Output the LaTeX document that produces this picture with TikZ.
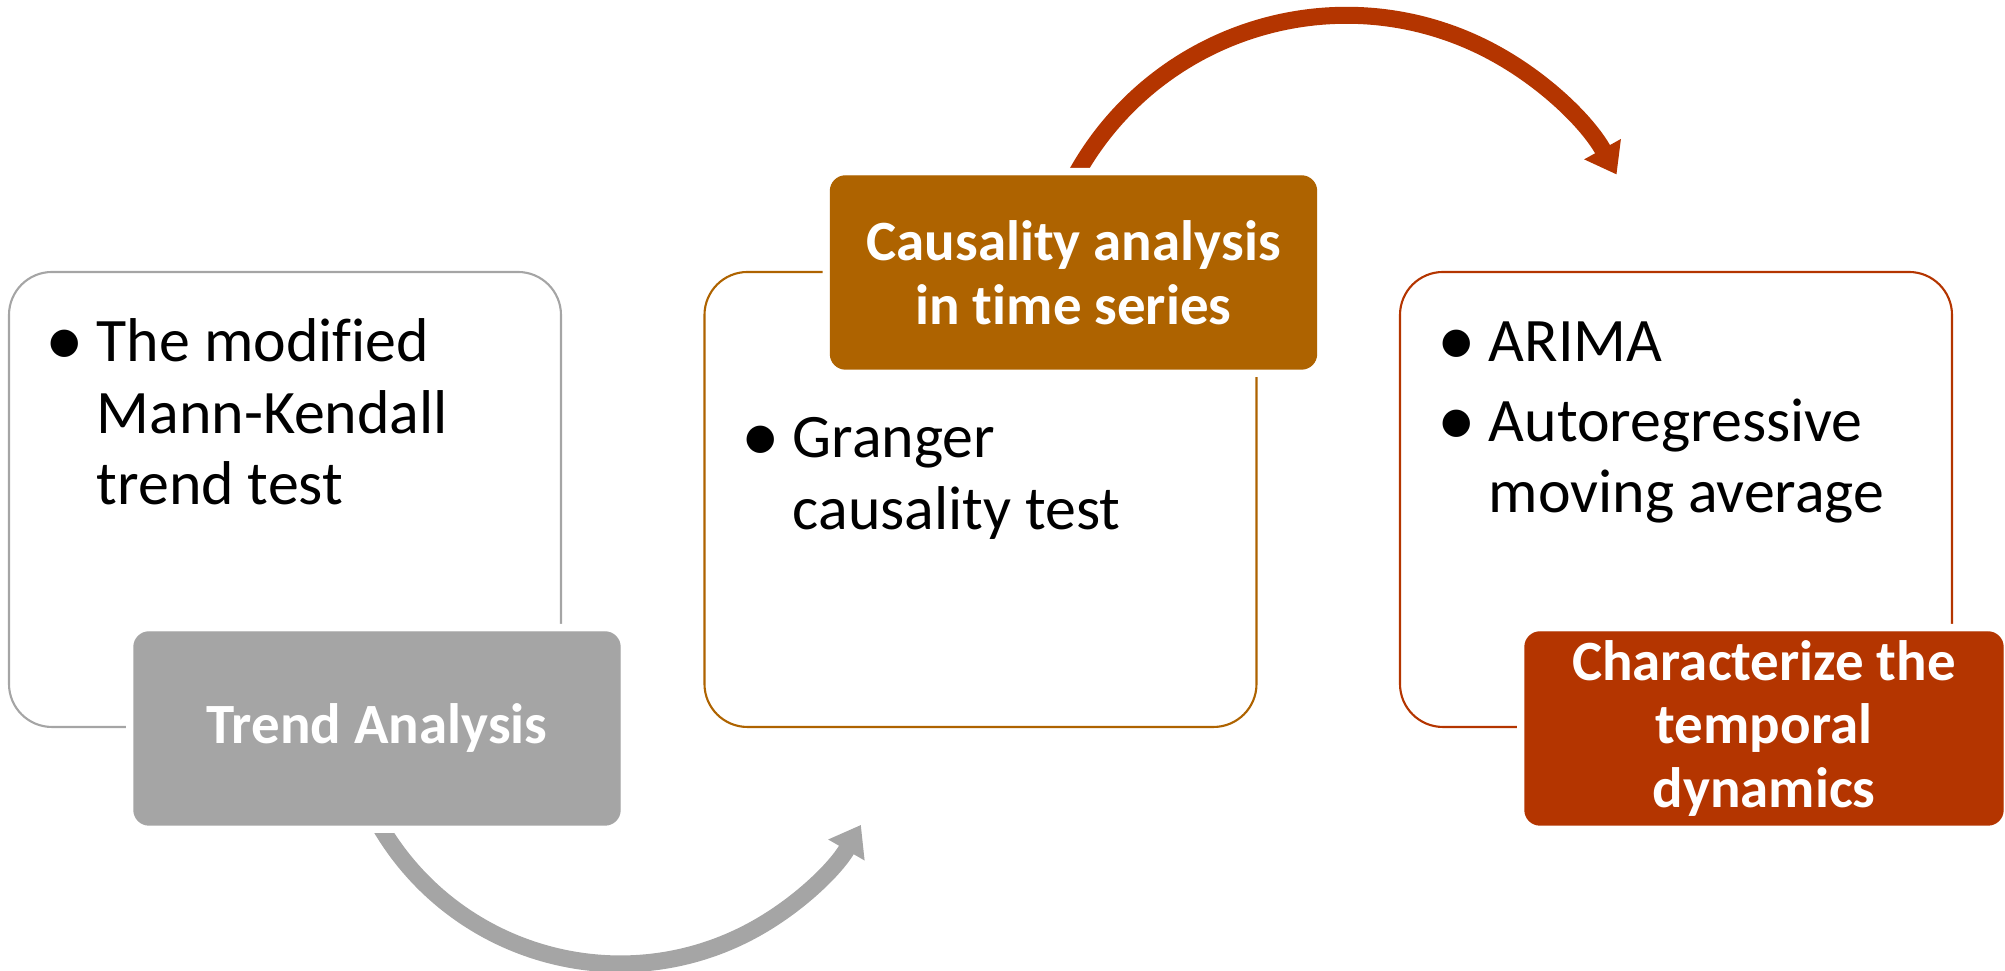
\documentclass[tikz,border=0pt]{standalone}
\usepackage{fontspec}
\setmainfont{Carlito}[Ligatures=NoCommon]
\usetikzlibrary{arrows.meta,calc,backgrounds}
\definecolor{trendgray}{HTML}{A5A5A5}
\definecolor{causbrown}{HTML}{AE6300}
\definecolor{dynred}{HTML}{B43500}
\newcommand\bulletmark{\makebox[0.22cm][c]{\raisebox{-0.06em}{\scalebox{1.25}{\textbullet}}}}

\begin{document}
\begin{tikzpicture}[
  boxline/.style={draw=#1, line width=0.6pt, rounded corners=0.43cm, minimum width=5.52cm, minimum height=4.55cm, inner sep=0},
  headbox/.style={fill=#1, draw=#1, line width=0.4pt, preaction={draw=white, line width=0.16cm}, rounded corners=0.15cm, minimum width=4.86cm, minimum height=1.93cm, inner sep=0, text=white, align=center, font=\fontsize{16.2}{18.2}\selectfont\bfseries},
  bullets/.style={anchor=base west, inner sep=0, font=\fontsize{17.6}{20.3}\selectfont},
  turnarrow/.style={draw=#1, line width=0.17cm, -{Triangle[length=0.29cm, width=0.40cm]}}
]
\useasboundingbox (0,0) rectangle (20.05,9.71);
\node[boxline=trendgray] (trendbox) at (2.85,4.715) {};
\node[boxline=causbrown] (causbox) at (9.805,4.715) {};
\node[boxline=dynred] (dynbox) at (16.76,4.715) {};
\node[headbox=trendgray] (trendhead) at (3.77,2.425) {Trend Analysis};
\node[headbox=causbrown] (caushead) at (10.735,6.985) {Causality analysis\\in time series};
\node[headbox=dynred, minimum width=4.78cm] (dynhead) at (17.64,2.425) {Characterize the\\temporal\\dynamics};
\node[bullets] (trendtext) at (0.53,6.09) {\begin{tabular}[t]{@{}p{0.43cm}@{}l@{}}\bulletmark & The modified\\ & Mann-Kendall\\ & trend test\end{tabular}};
\node[bullets] (caustext) at (7.49,5.13) {\begin{tabular}[t]{@{}p{0.43cm}@{}l@{}}\bulletmark & Granger\\ & causality test\end{tabular}};
\node[bullets] (dyntext) at (14.45,6.09) {\begin{tabular}[t]{@{}p{0.43cm}@{}l@{}}\bulletmark & ARIMA\\[2.3pt]\bulletmark & Autoregressive\\ & moving average\end{tabular}};
% curved arrows behind the headers
\begin{pgfonlayer}{background}
\draw[turnarrow=trendgray] ($(trendhead.south)+(0,0.05)$) arc[start angle=209, end angle=330, radius=2.78];
\draw[turnarrow=dynred] ($(caushead.north)+(0,-0.04)$) arc[start angle=152, end angle=29, radius=3.09];
\end{pgfonlayer}
\end{tikzpicture}
\end{document}
